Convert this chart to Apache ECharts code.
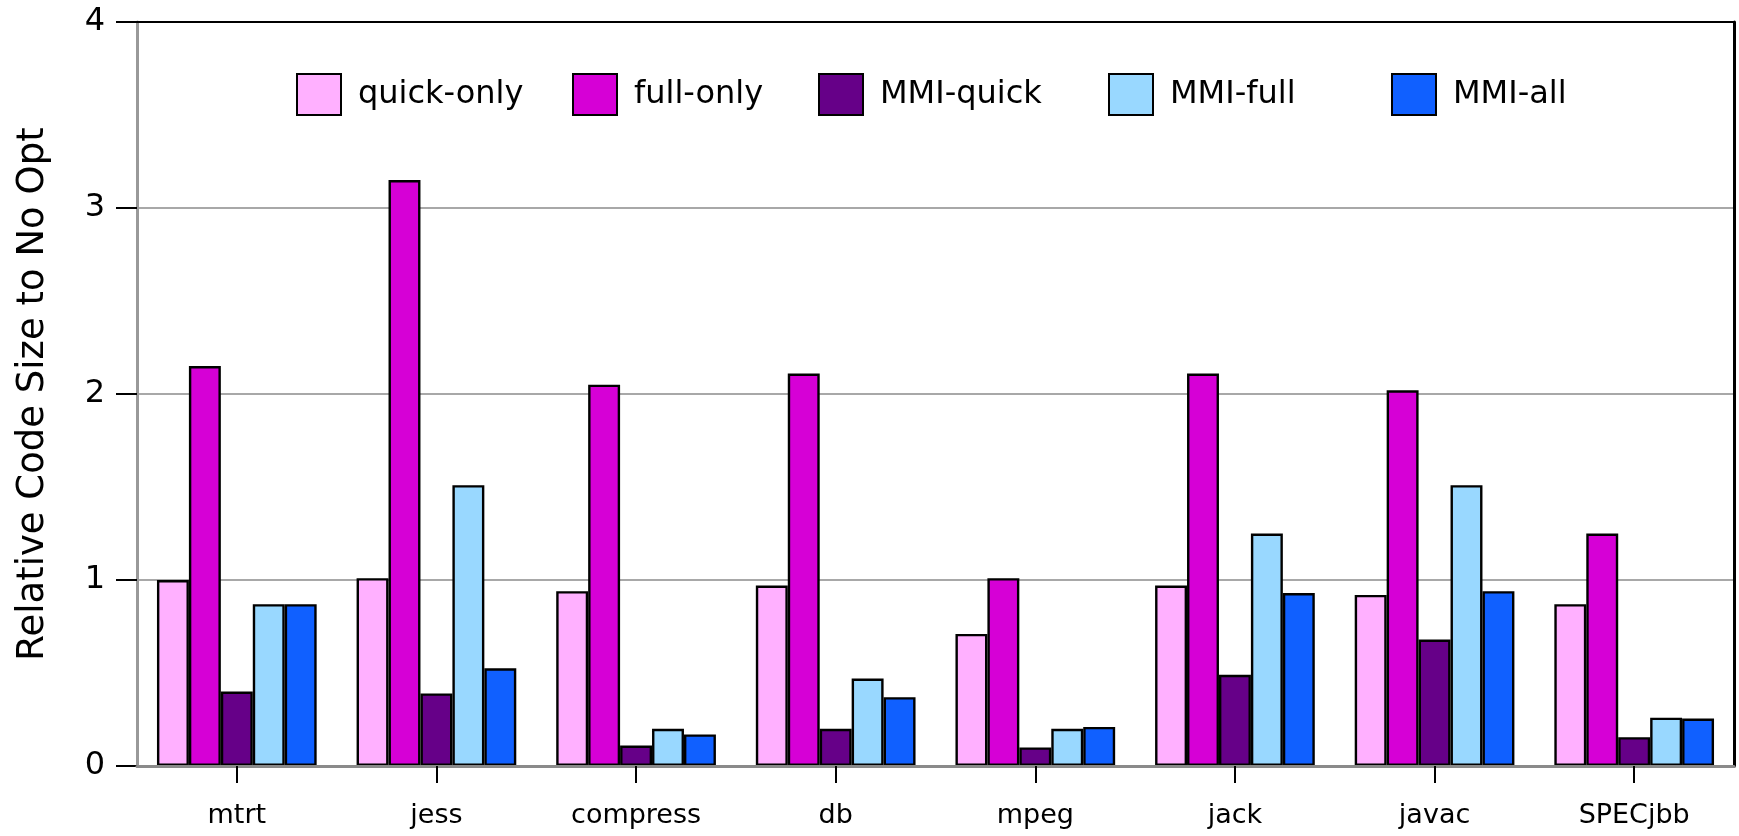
<!DOCTYPE html>
<html>
<head>
<meta charset="utf-8">
<title>Relative Code Size</title>
<script src="https://cdn.jsdelivr.net/npm/echarts@6/dist/echarts.min.js"></script>
<style>
  html, body { margin: 0; padding: 0; background: #ffffff; }
  #chart { width: 1739px; height: 836px; }
</style>
</head>
<body>
<div id="chart"></div>
<script>
// Benchmarks on the x axis
const categories = ['mtrt', 'jess', 'compress', 'db', 'mpeg', 'jack', 'javac', 'SPECjbb'];

// Code size relative to the unoptimized build, per configuration
const quickOnly = [1.00, 1.01, 0.94, 0.97, 0.71, 0.97, 0.92, 0.87];
const fullOnly  = [2.15, 3.15, 2.05, 2.11, 1.01, 2.11, 2.02, 1.25];
const mmiQuick  = [0.40, 0.39, 0.11, 0.20, 0.10, 0.49, 0.68, 0.155];
const mmiFull   = [0.87, 1.51, 0.20, 0.47, 0.20, 1.25, 1.51, 0.26];
const mmiAll    = [0.87, 0.525, 0.17, 0.37, 0.21, 0.93, 0.94, 0.255];

const seriesNames = ['quick-only', 'full-only', 'MMI-quick', 'MMI-full', 'MMI-all'];
const seriesColors = ['#FFB0FF', '#D600D6', '#660088', '#99D8FF', '#1060FF'];
const seriesData = [quickOnly, fullOnly, mmiQuick, mmiFull, mmiAll];

const yTicks = [0, 1, 2, 3, 4];

const FONT = '"DejaVu Sans", "Noto Sans", sans-serif';

// left edge of each legend entry
const legendLefts = [291, 567, 813, 1103, 1386];

const chart = echarts.init(document.getElementById('chart'), null, { renderer: 'canvas' });

const legends = seriesNames.map((name, i) => ({
  left: legendLefts[i], top: 68,
  itemWidth: 44, itemHeight: 41,
  icon: 'rect',
  selectedMode: false,
  itemStyle: { borderColor: '#000', borderWidth: 2 },
  textStyle: { fontFamily: FONT, fontSize: 32, color: '#000', padding: [0, 0, 0, 12] },
  data: [name]
}));

chart.setOption({
  backgroundColor: '#ffffff',
  animation: false,
  textStyle: { fontFamily: FONT, color: '#000' },
  grid: { left: 137, right: 5, top: 22, bottom: 70 },
  legend: legends,
  xAxis: [{
    type: 'category',
    data: categories,
    axisLine: { show: true, lineStyle: { color: '#8a8a8a', width: 3 } },
    axisTick: { show: true, alignWithLabel: true, length: 17, lineStyle: { color: '#000', width: 2 } },
    axisLabel: { fontFamily: FONT, fontSize: 27, color: '#000', margin: 36 },
    splitLine: { show: false },
    z: 3
  }, {
    // black frame along the top of the plot
    type: 'category',
    position: 'top',
    data: categories,
    axisLine: { show: true, onZero: false, lineStyle: { color: '#000', width: 2 } },
    axisTick: { show: false },
    axisLabel: { show: false },
    splitLine: { show: false },
    z: 3
  }],
  yAxis: [{
    type: 'value',
    min: 0, max: 4, interval: 1,
    name: 'Relative Code Size to No Opt',
    nameLocation: 'middle',
    nameGap: 85,
    nameTextStyle: { fontFamily: FONT, fontSize: 37, color: '#000' },
    axisLine: { show: true, lineStyle: { color: '#999', width: 3 } },
    axisTick: { show: true, inside: false, length: 21, lineStyle: { color: '#000', width: 2 } },
    axisLabel: {
      fontFamily: FONT, fontSize: 32, color: '#000', margin: 32,
      formatter: v => (yTicks.indexOf(v) >= 0 ? String(v) : '')
    },
    splitLine: { show: true, lineStyle: { color: '#a8a8a8', width: 2 } }
  }, {
    // black frame along the right side of the plot
    type: 'value',
    position: 'right',
    min: 0, max: 4, interval: 1,
    axisLine: { show: true, onZero: false, lineStyle: { color: '#000', width: 3 } },
    axisTick: { show: false },
    axisLabel: { show: false },
    splitLine: { show: false },
    z: 3
  }],
  series: seriesNames.map((name, i) => ({
    name: name,
    type: 'bar',
    data: seriesData[i],
    barGap: '0%',
    barCategoryGap: '20%',
    itemStyle: { color: seriesColors[i], borderColor: '#000', borderWidth: 2.4 },
    emphasis: { disabled: true }
  }))
});
</script>
</body>
</html>
